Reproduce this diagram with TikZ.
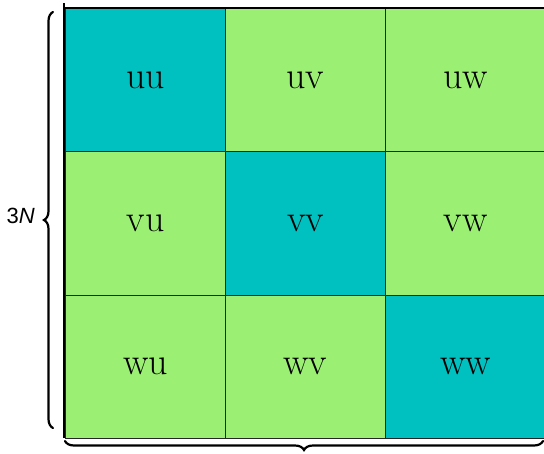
\documentclass[tikz,border=0pt]{standalone}
\usepackage{fontspec}
\newfontfamily\labelfont{Liberation Sans}
\usetikzlibrary{decorations.pathreplacing}
\definecolor{teal1}{HTML}{00C0C0}
\definecolor{green1}{HTML}{9BF073}
\begin{document}
\begin{tikzpicture}[x=1pt,y=-1pt,
  diagcell/.style={fill=teal1,draw=black!85,line width=1pt},
  offcell/.style={fill=green1,draw=black!85,line width=1pt},
  celltext/.style={font=\fontsize{38}{44}\selectfont,text=black},
  bracestyle/.style={decorate,line width=2.2pt,line cap=round}]
\useasboundingbox (0,0) rectangle (544,453);
% cells
\foreach \r/\rn in {0/u,1/v,2/w}{
  \foreach \c/\cn in {0/u,1/v,2/w}{
    \pgfmathsetmacro{\xa}{65+160*\c}
    \pgfmathsetmacro{\ya}{8+143.3*\r}
    \ifnum\r=\c
      \node[diagcell,minimum width=160pt,minimum height=143.3pt,inner sep=0pt,anchor=north west] (c\rn\cn) at (\xa,\ya) {};
    \else
      \node[offcell,minimum width=160pt,minimum height=143.3pt,inner sep=0pt,anchor=north west] (c\rn\cn) at (\xa,\ya) {};
    \fi
    \node[celltext] (t\rn\cn) at (c\rn\cn.center) {\rn\cn};
  }
}
% axes
\coordinate (axtop) at (64,3);
\coordinate (axbot) at (64,438);
\coordinate (toplineR) at (544,8);
\coordinate (toplineL) at (64,8);
\draw[line width=1.2pt] (axtop) -- (axbot);
\draw[line width=2pt] (toplineL) -- (toplineR);
% braces
\coordinate (lbt) at (53,12);
\coordinate (lbb) at (53,428);
\draw[bracestyle,decoration={brace,amplitude=9pt}] (lbb) -- (lbt);
\node[font=\labelfont\fontsize{22}{26}\selectfont,anchor=east,inner sep=0pt] (lab) at (35,216) {3\textit{N}};
\coordinate (bbl) at (65,441);
\coordinate (bbr) at (543,441);
\draw[bracestyle,decoration={brace,amplitude=9pt}] (bbr) -- (bbl);
\end{tikzpicture}
\end{document}
